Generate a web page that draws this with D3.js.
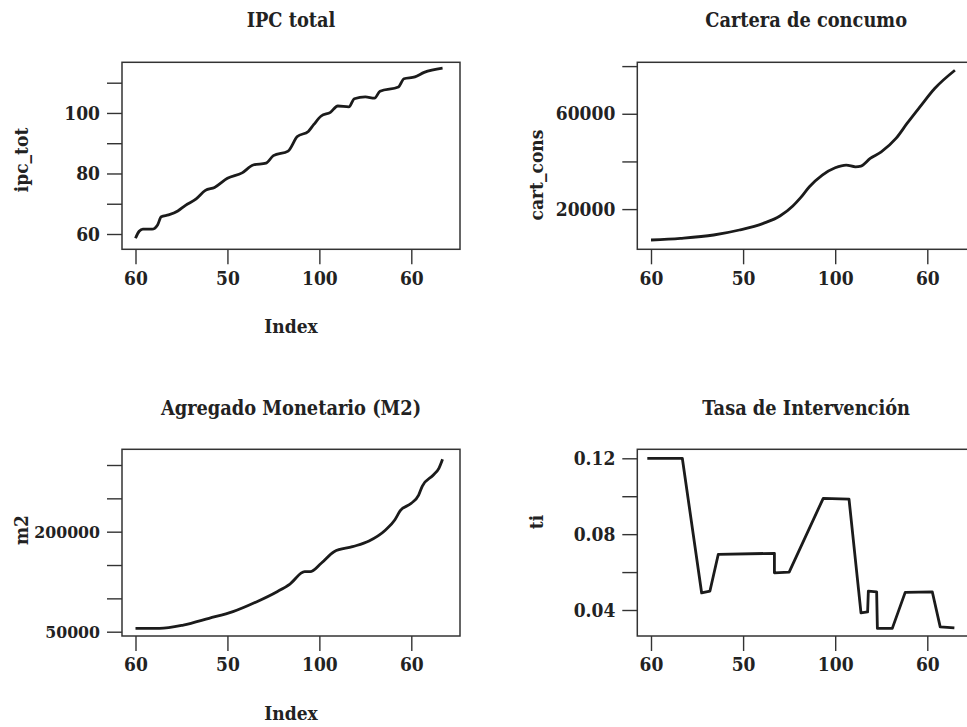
<!DOCTYPE html>
<meta charset="utf-8">
<head>
  <title>Series macro</title>
</head>

<style>
body { margin: 0; background: #fff; }
svg text {
  font-family: "DejaVu Serif Condensed", "Liberation Serif", serif;
  font-stretch: condensed;
  font-weight: bold;
  font-size: 19px;
  fill: #222;
}
svg text.titulo { font-size: 19.8px; }
.box { fill: none; stroke: #333; stroke-width: 1.5; }
.tick line { stroke: #333; stroke-width: 1.4; }
.serie { fill: none; stroke: #1b1b1b; stroke-width: 2.8; stroke-linejoin: round; }
</style>

<body>
  <svg width="967" height="727"></svg>

  <script src="https://cdnjs.cloudflare.com/ajax/libs/d3/7.8.5/d3.min.js"></script>
  <script>
// x ticks (index positions) and their printed labels
var xTicks = [0, 50, 100, 150]
var xTickLabels = ["60", "50", "100", "60"]

// IPC total
var ipcIdx = [0, 2, 4, 9, 12, 14, 18, 23, 27, 33, 38, 43, 50, 58, 64, 71, 75, 83, 88, 94, 97, 101, 106, 110, 116, 119, 125, 130, 133, 143, 146, 152, 157, 167]
var ipcVal = [58.6, 60.9, 61.6, 61.6, 63.0, 65.7, 66.3, 67.6, 69.4, 71.6, 74.4, 75.4, 78.4, 80.2, 82.8, 83.4, 85.9, 87.4, 92.2, 93.9, 96.2, 99.0, 100.2, 102.3, 102.0, 104.7, 105.3, 104.9, 107.2, 108.6, 111.3, 111.9, 113.4, 114.8]

// Cartera de consumo
var cartIdx = [0, 16, 34, 48, 61, 70, 77, 81, 86, 93, 100, 106, 111, 114, 119, 125, 133, 139, 146, 154, 165]
var cartVal = [7040, 7750, 9130, 11230, 14030, 17090, 21300, 24600, 29370, 34270, 37330, 38460, 37750, 38040, 41260, 44030, 49640, 55930, 62880, 70590, 78260]

// Agregado monetario M2
var m2Idx = [0, 13, 26, 40, 53, 66, 77, 84, 92, 95, 101, 108, 118, 127, 136, 141, 144, 150, 154, 156, 162, 165, 167]
var m2Val = [55100, 55100, 60000, 70100, 80000, 95000, 110000, 121500, 140000, 140000, 152600, 170000, 177500, 186000, 202500, 217500, 231500, 242600, 255000, 268500, 285000, 295000, 308600]

// Tasa de intervencion
var tiIdx = [-2, 17, 27.5, 32, 36.5, 67, 67, 75, 93.5, 107.5, 114, 117.6, 118, 122.5, 122.9, 131, 138, 152.7, 157, 164.7]
var tiVal = [0.12, 0.12, 0.049, 0.050, 0.0693, 0.0699, 0.0596, 0.060, 0.0989, 0.0985, 0.0385, 0.039, 0.050, 0.0496, 0.0303, 0.0303, 0.0493, 0.0496, 0.0311, 0.0306]

// y ticks and which ones carry a label
var ipcTicks = [60, 70, 80, 90, 100, 110], ipcLab = [60, 80, 100]
var cartTicks = [20000, 40000, 60000, 80000], cartLab = [20000, 60000]
var m2Ticks = [50000, 100000, 150000, 200000, 250000, 300000], m2Lab = [50000, 200000]
var tiTicks = [0.04, 0.06, 0.08, 0.10, 0.12], tiLab = [0.04, 0.08, 0.12]

var svg = d3.select('svg')

var panels = [
  {title: 'IPC total', ylab: 'ipc_tot', idx: ipcIdx, val: ipcVal, ticks: ipcTicks, lab: ipcLab,
   fmt: d3.format('d'), box: [122, 62.3, 460, 249.3], xr: [135.5, 411.3], yd: [60, 110], yr: [234, 82.7],
   tY: 26.7, ylY: 160, xlab: true, curve: d3.curveMonotoneX, yfs: null},
  {title: 'Cartera de concumo', ylab: 'cart_cons', idx: cartIdx, val: cartVal, ticks: cartTicks, lab: cartLab,
   fmt: d3.format('d'), box: [637.3, 62.3, 975, 249.3], xr: [651, 927.3], yd: [20000, 80000], yr: [209.1, 66.1],
   tY: 26.7, ylY: 175, xlab: false, curve: d3.curveMonotoneX, yfs: null},
  {title: 'Agregado Monetario (M2)', ylab: 'm2', idx: m2Idx, val: m2Val, ticks: m2Ticks, lab: m2Lab,
   fmt: d3.format('d'), box: [122, 449.3, 460, 636], xr: [135.5, 411.3], yd: [50000, 300000], yr: [631.7, 465],
   tY: 414.5, ylY: 530, xlab: true, curve: d3.curveMonotoneX, yfs: '17.5px'},
  {title: 'Tasa de Intervención', ylab: 'ti', idx: tiIdx, val: tiVal, ticks: tiTicks, lab: tiLab,
   fmt: d3.format('.2f'), box: [637.3, 449.3, 975, 636], xr: [651, 927.3], yd: [0.12, 0.04], yr: [458.3, 610],
   tY: 414.5, ylY: 522, xlab: false, curve: d3.curveLinear, yfs: null}
]

panels.forEach(function(p) {
  var b = p.box
  var x = d3.scaleLinear().domain([0, 150]).range(p.xr)
  var y = d3.scaleLinear().domain(p.yd).range(p.yr)
  var g = svg.append('g')

  g.append('rect').attr('class', 'box')
    .attr('x', b[0]).attr('y', b[1])
    .attr('width', b[2] - b[0]).attr('height', b[3] - b[1])

  var xa = g.append('g').attr('transform', 'translate(0,' + b[3] + ')')
    .call(d3.axisBottom(x).tickValues(xTicks).tickSize(15).tickPadding(7)
      .tickFormat(function(d, i) { return xTickLabels[i] }))
  xa.select('.domain').remove()
  xa.selectAll('text').attr('font-size', null).attr('font-family', null).attr('fill', null)

  var ya = g.append('g').attr('transform', 'translate(' + b[0] + ',0)')
    .call(d3.axisLeft(y).tickValues(p.ticks).tickSize(15).tickPadding(7)
      .tickFormat(function(d) { return p.lab.indexOf(d) >= 0 ? p.fmt(d) : '' }))
  ya.select('.domain').remove()
  ya.selectAll('text').attr('font-size', null).attr('font-family', null).attr('fill', null)
  if (p.yfs) ya.selectAll('text').style('font-size', p.yfs)

  var pts = p.idx.map(function(d, i) { return [d, p.val[i]] })
  g.append('path').attr('class', 'serie')
    .attr('d', d3.line().x(function(d) { return x(d[0]) }).y(function(d) { return y(d[1]) }).curve(p.curve)(pts))

  var cx = (b[0] + b[2]) / 2
  g.append('text').attr('class', 'titulo').attr('x', cx).attr('y', p.tY).attr('text-anchor', 'middle').text(p.title)

  g.append('text').attr('text-anchor', 'middle')
    .attr('transform', 'translate(' + (b[0] - 94) + ',' + p.ylY + ') rotate(-90)')
    .text(p.ylab)

  if (p.xlab) {
    g.append('text').attr('x', cx).attr('y', b[3] + 84).attr('text-anchor', 'middle').text('Index')
  }
})
  </script>
</body>
</html>
